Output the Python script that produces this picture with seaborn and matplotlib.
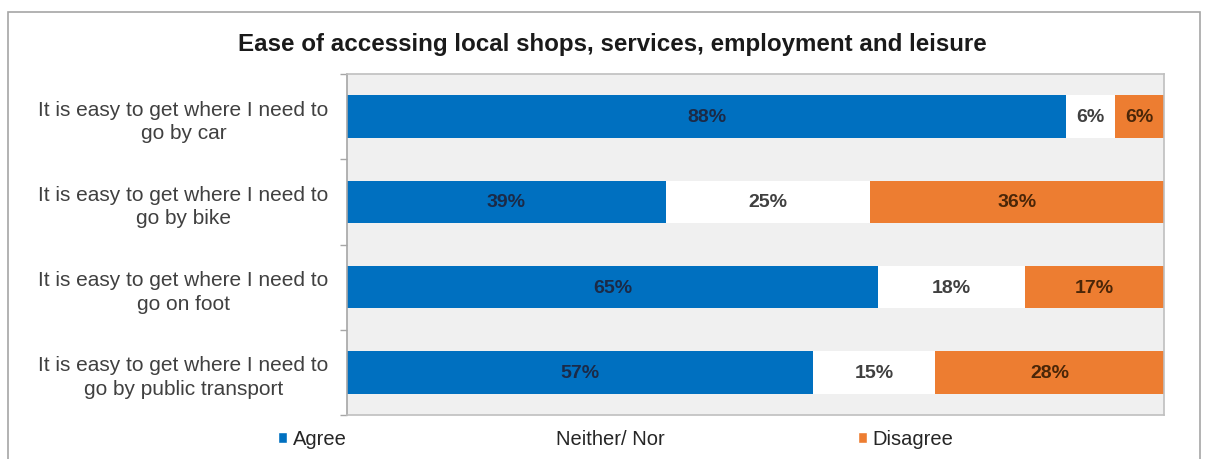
import matplotlib
matplotlib.use("Agg")
import matplotlib.pyplot as plt
from matplotlib.patches import Rectangle, Patch
import numpy as np
import pandas as pd
import seaborn as sns

categories = [
    "It is easy to get where I need to\ngo by car",
    "It is easy to get where I need to\ngo by bike",
    "It is easy to get where I need to\ngo on foot",
    "It is easy to get where I need to\ngo by public transport",
]
agree = [88, 39, 65, 57]
neither = [6, 25, 18, 15]
disagree = [6, 36, 17, 28]
series_names = ["Agree", "Neither/ Nor", "Disagree"]
title = "Ease of accessing local shops, services, employment and leisure"

BLUE = "#0070C0"
ORANGE = "#ED7D31"
NEUTRAL = "#FFFFFF"
PLOT_BG = "#F0F0F0"

sns.set_theme(style="white")
plt.rcParams["font.family"] = ["Liberation Sans", "DejaVu Sans"]

df = pd.DataFrame({
    "category": categories,
    "agree": agree,
    "neither": neither,
    "disagree": disagree,
})
df["cum_agree"] = df["agree"]
df["cum_neither"] = df["agree"] + df["neither"]
df["cum_total"] = df["cum_neither"] + df["disagree"]

W, H = 1212, 460
fig = plt.figure(figsize=(W / 100, H / 100), dpi=100)
ax = fig.add_axes([347 / W, 1 - 416 / H, (1164 - 347) / W, (416 - 75) / H])
ax.set_facecolor(PLOT_BG)

# Stacked bars: draw cumulative totals back to front
for col, color in [("cum_total", ORANGE), ("cum_neither", NEUTRAL), ("cum_agree", BLUE)]:
    sns.barplot(data=df, x=col, y="category", orient="h", color=color,
                width=0.5, saturation=1, ax=ax, linewidth=0)

# Segment value labels
for i in range(len(categories)):
    a, n, d = agree[i], neither[i], disagree[i]
    ax.text(a / 2, i, f"{a}%", ha="center", va="center", fontsize=14,
            fontweight="bold", color="#1B2A47")
    ax.text(a + n / 2, i, f"{n}%", ha="center", va="center", fontsize=14,
            fontweight="bold", color="#404040")
    ax.text(a + n + d / 2, i, f"{d}%", ha="center", va="center", fontsize=14,
            fontweight="bold", color="#4A2608")

ax.set_xlim(0, 100)
ax.set_ylim(3.5, -0.5)
ax.set_xlabel("")
ax.set_ylabel("")
ax.set_xticks([])
ax.tick_params(axis="y", which="major", length=0, pad=0, labelsize=15,
               labelcolor="#404040")
for lbl in ax.get_yticklabels():
    lbl.set_multialignment("center")
    lbl.set_horizontalalignment("center")
    lbl.set_x(-0.2)
    lbl.set_linespacing(1.3)
ax.set_yticks([-0.5, 0.5, 1.5, 2.5, 3.5], minor=True)
ax.tick_params(axis="y", which="minor", length=5, width=1, color="#A6A6A6", left=True)

for s in ["top", "right", "bottom"]:
    ax.spines[s].set_color("#BFBFBF")
    ax.spines[s].set_linewidth(1.2)
ax.spines["left"].set_color("#A6A6A6")
ax.spines["left"].set_linewidth(1.2)

# Outer chart frame
fig.patches.append(Rectangle((8 / W, -0.05), (1200 - 8) / W, 1.05 - 13 / H,
                             transform=fig.transFigure, fill=False,
                             edgecolor="#A6A6A6", linewidth=1.2))

fig.text(612 / W, 1 - 45 / H, title, ha="center", va="center",
         fontsize=17.4, fontweight="bold", color="#1A1A1A")

handles = [Patch(facecolor=BLUE), Patch(facecolor=NEUTRAL), Patch(facecolor=ORANGE)]
fig.legend(handles, series_names, ncol=3, loc="center",
           bbox_to_anchor=(616 / W, 1 - 440 / H), frameon=False,
           fontsize=14.5, handlelength=0.45, handleheight=0.45, handletextpad=0.3,
           columnspacing=9.6, labelcolor="#262626", borderpad=0)

fig.savefig("out.png", dpi=100, facecolor="white")
